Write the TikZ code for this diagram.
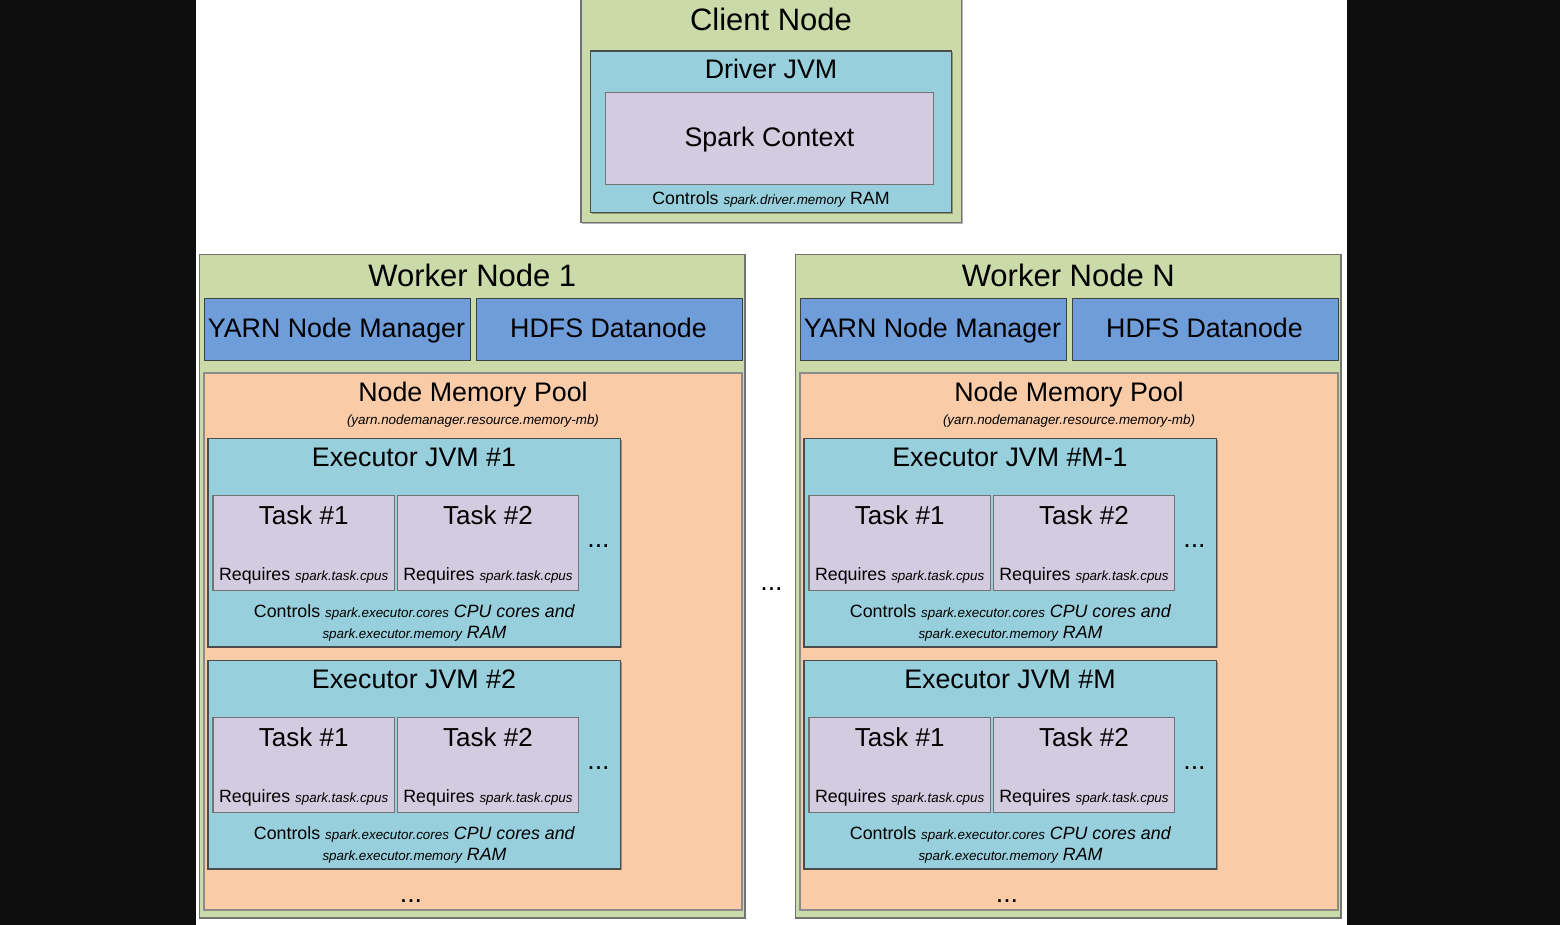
\documentclass[tikz,border=0pt]{standalone}
\usepackage{fontspec}
\setmainfont{Liberation Sans}
\usetikzlibrary{shadows}

\definecolor{nodegreen}{HTML}{CADAA8}
\definecolor{jvmblue}{HTML}{97CFDD}
\definecolor{tasklilac}{HTML}{D3CBE0}
\definecolor{poolpeach}{HTML}{F9CBA7}
\definecolor{svcblue}{HTML}{6F9DDA}
\definecolor{sidebar}{HTML}{0E0E0E}

% font size in pt (1pt = one unit of the drawing)
\newcommand\fsz[2]{\fontsize{#1}{#2}\selectfont}
\newcommand\bigfs{\fsz{31}{37}}
\newcommand\midfs{\fsz{26.8}{32}}
\newcommand\taskfs{\fsz{26}{31}}
\newcommand\bodyfs{\fsz{17.8}{21}}
\newcommand\paramfs{\fsz{13.4}{16}\itshape}

% one executor JVM with two task slots; #1 name, #2 vertical offset, #3 title
\newcommand\executor[3]{%
\begin{scope}[yshift=-#2pt]
  \node[box, jvmbox, minimum width=412.5pt, minimum height=208.5pt] (#1) at (208,438.5) {};
  \node[txt] (#1-title) at (414,466) {\midfs #3};
  \node[box, taskbox, minimum width=181.5pt, minimum height=95pt] (#1-t1) at (213,495.5) {};
  \node[box, taskbox, minimum width=181pt, minimum height=95pt] (#1-t2) at (397.5,495.5) {};
  \node[txt] (#1-t1-title) at (303.7,524.5) {\taskfs Task \#1};
  \node[txt] (#1-t2-title) at (488,524.5) {\taskfs Task \#2};
  \node[txt] (#1-t1-req) at (303.7,580.7) {\bodyfs Requires {\paramfs spark.task.cpus}};
  \node[txt] (#1-t2-req) at (488,580.7) {\bodyfs Requires {\paramfs spark.task.cpus}};
  \node[txt] (#1-more) at (598.5,547) {\midfs ...};
  \node[txt] (#1-ctl-a) at (414.3,617.3) {\bodyfs Controls {\paramfs spark.executor.cores} {\itshape CPU cores and}};
  \node[txt] (#1-ctl-b) at (414.5,638.3) {\bodyfs {\paramfs spark.executor.memory} {\itshape RAM}};
\end{scope}}

% one worker machine; #1 name, #2 horizontal offset, #3 title, #4/#5 executor titles
\newcommand\workernode[5]{%
\begin{scope}[xshift=#2pt]
  \node[box, greenbox, minimum width=545.5pt, minimum height=663.5pt] (#1) at (199.5,254.5) {};
  \node[txt] (#1-title) at (472.3,286.5) {\bigfs #3};
  \node[box, svcbox, minimum width=266pt, minimum height=62pt] (#1-yarn) at (204,298) {};
  \node[box, svcbox, minimum width=266pt, minimum height=62pt] (#1-hdfs) at (476,298) {};
  \node[txt] (#1-yarn-label) at (336.5,337.5) {\midfs YARN Node Manager};
  \node[txt] (#1-hdfs-label) at (608.5,337.5) {\midfs HDFS Datanode};
  \node[box, poolbox, minimum width=538pt, minimum height=537pt] (#1-pool) at (204,373) {};
  \node[txt] (#1-pool-title) at (473,401.5) {\midfs Node Memory Pool};
  \node[txt] (#1-pool-param) at (473,424) {\paramfs (yarn.nodemanager.resource.memory-mb)};
  \executor{#1-ea}{0}{#4}
  \executor{#1-eb}{222}{#5}
  \node[txt] (#1-more) at (411,902.5) {\midfs ...};
\end{scope}}

\begin{document}
\begin{tikzpicture}[x=1pt, y=-1pt,
  box/.style={rectangle, inner sep=0pt, outer sep=0pt, line width=1.2pt, anchor=north west},
  greenbox/.style={fill=nodegreen, draw=black!55,
    drop shadow={shadow xshift=1.2pt, shadow yshift=-1.2pt, fill=black, opacity=0.3}},
  jvmbox/.style={fill=jvmblue, draw=black!70,
    drop shadow={shadow xshift=1.2pt, shadow yshift=-1.2pt, fill=black, opacity=0.3}},
  taskbox/.style={fill=tasklilac, draw=black!55},
  svcbox/.style={fill=svcblue, draw=black!75, line width=1pt},
  poolbox/.style={fill=poolpeach, draw=black!45},
  txt/.style={inner sep=0pt, outer sep=0pt, anchor=base, text=black}]

  \useasboundingbox (0,0) rectangle (1560,925);
  % page: dark side bands around a white sheet
  \fill[sidebar] (0,0) rectangle (1560,925);
  \fill[white] (196,0) rectangle (1347,925);

  % client machine with the driver
  \node[box, greenbox, minimum width=380.5pt, minimum height=224.5pt] (client) at (581,-2) {};
  \node[txt] (client-title) at (771,30.7) {\bigfs Client Node};
  \node[box, jvmbox, minimum width=361pt, minimum height=161.5pt] (driver) at (590.5,51) {};
  \node[txt] (driver-title) at (771,79) {\midfs Driver JVM};
  \node[box, taskbox, minimum width=328pt, minimum height=91.5pt] (context) at (605.5,92.8) {};
  \node[txt] (context-label) at (769.5,146.7) {\midfs Spark Context};
  \node[txt] (driver-mem) at (771,205) {\bodyfs Controls {\paramfs spark.driver.memory} RAM};

  % worker machines
  \workernode{w1}{0}{Worker Node 1}{Executor JVM \#1}{Executor JVM \#2}
  \workernode{wn}{596}{Worker Node N}{Executor JVM \#M-1}{Executor JVM \#M}

  \node[txt] (workers-more) at (771.5,590.5) {\midfs ...};
\end{tikzpicture}
\end{document}
